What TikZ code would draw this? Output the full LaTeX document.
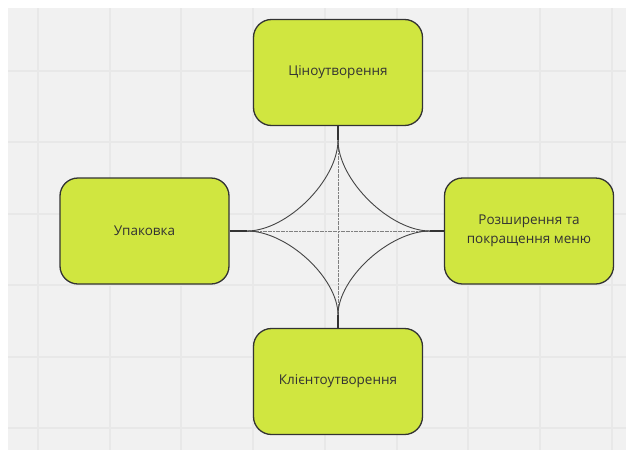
\documentclass[tikz,border=0pt]{standalone}
\usepackage{fontspec}
\setmainfont{Open Sans}
\definecolor{bg}{HTML}{F1F1F1}
\definecolor{gridc}{HTML}{E8E8E8}
\definecolor{boxfill}{RGB}{208,230,64}
\definecolor{edge}{HTML}{333333}
\definecolor{curve}{HTML}{444444}
\begin{document}
\begin{tikzpicture}[x=1pt,y=-1pt,
  box/.style={draw=edge, line width=1.3pt, fill=boxfill, rounded corners=18pt,
    minimum width=169pt, minimum height=106pt, align=center,
    font=\fontsize{13.5}{19}\selectfont, text=edge},
  stub/.style={draw=edge, line width=1.2pt},
  link/.style={draw=curve, line width=0.9pt},
  cross/.style={draw=black!50, line width=0.9pt, dash pattern=on 2pt off 0.6pt},
  gridline/.style={draw=gridc, line width=1.2pt}]
\useasboundingbox (0,0) rectangle (626,450);
\fill[white] (0,0) rectangle (626,450);
\fill[bg] (8,8) rectangle (626,450);
\foreach \gx in {38,110,181,253,325,397,468,540,612}
  \draw[gridline] (\gx,8) -- (\gx,450);
\foreach \gy in {71,142,214,285,357,428}
  \draw[gridline] (8,\gy) -- (626,\gy);
\node[box] (top) at (338,72.5) {Ціноутворення};
\node[box] (left) at (144.5,231) {Упаковка};
\node[box] (right) at (529,231) {Розширення та\\покращення меню};
\node[box] (bottom) at (338,381.5) {Клієнтоутворення};
\coordinate (ct) at (338,140);
\coordinate (cl) at (247,231);
\coordinate (cr) at (430,231);
\coordinate (cb) at (338,315);
\draw[cross] (ct) -- (cb);
\draw[cross] (cl) -- (cr);
\draw[stub] (top.south) -- (ct);
\draw[stub] (bottom.north) -- (cb);
\draw[stub] (left.east) -- (cl);
\draw[stub] (right.west) -- (cr);
\draw[link] (ct) .. controls +(0,40) and +(40,0) .. (cl);
\draw[link] (ct) .. controls +(0,40) and +(-40,0) .. (cr);
\draw[link] (cb) .. controls +(0,-37) and +(40,0) .. (cl);
\draw[link] (cb) .. controls +(0,-37) and +(-40,0) .. (cr);
\end{tikzpicture}
\end{document}
